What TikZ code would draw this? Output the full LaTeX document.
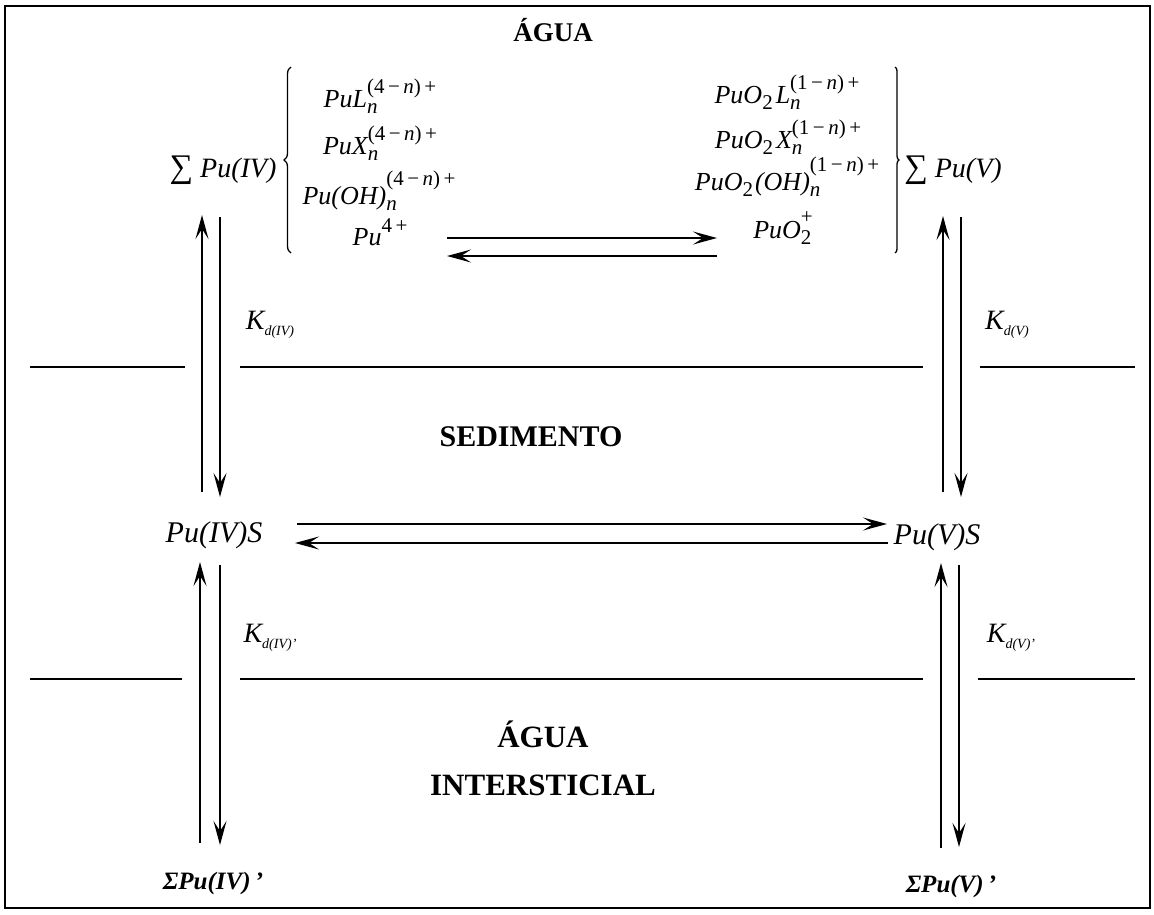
\documentclass[tikz,border=0pt]{standalone}
\usepackage{fontspec}
\setmainfont{Liberation Serif}
\usetikzlibrary{arrows.meta,decorations.pathreplacing}

% raised/lowered indices set in a smaller upright font
\newdimen\sswd
\newcommand\supfont{\fontsize{21}{21}\selectfont\upshape}
% \supsub[raise]{subscript}{superscript}
\newcommand\supsub[3][14pt]{%
  \setbox0=\hbox{\supfont #3}%
  \setbox2=\hbox{\supfont #2}%
  \sswd=\wd0 \ifdim\wd2>\sswd \sswd=\wd2\fi
  \rlap{\raise#1\box0}\rlap{\lower6pt\box2}\kern\sswd}
\newcommand\chsub[1]{\lower6pt\hbox{\supfont #1}}
\newcommand\chsup[2][13pt]{\raise#1\hbox{\supfont #2}}
\newcommand\chg[1]{(#1\,−\,\textit{n})\,+}
\newcommand\Ksub[1]{\lower6pt\hbox{\fontsize{14}{14}\selectfont\itshape #1}}
\newcommand\bigsum{{\upshape\fontsize{33}{33}\selectfont ∑}}

\tikzset{
  title/.style={font=\fontsize{30}{36}\selectfont\bfseries, inner sep=0pt, align=center},
  spec/.style={font=\fontsize{26}{30}\selectfont\itshape, inner sep=0pt, anchor=base},
  total/.style={spec, font=\fontsize{28}{32}\selectfont\itshape},
  sorbed/.style={spec, font=\fontsize{30}{34}\selectfont\itshape},
  pore/.style={spec, font=\fontsize{25}{30}\selectfont\bfseries\itshape},
  klabel/.style={font=\fontsize{28}{32}\selectfont\itshape, inner sep=0pt},
  rxn/.style={line width=1.6pt, -{Stealth[length=24pt,width=13pt,inset=10pt]}},
  layer/.style={line width=1.5pt},
  group/.style={line width=1.3pt, decorate},
}

\begin{document}
\begin{tikzpicture}[x=1pt,y=-1pt]
\useasboundingbox (0,0) rectangle (1154,914);
\draw[line width=2pt] (5,6) rectangle (1150,908);

% compartment titles
\node[title, font=\fontsize{27}{32}\selectfont\bfseries] (water) at (553,30) {ÁGUA};
\node[title] (sed)  at (531,437) {SEDIMENTO};
\node[title, font=\fontsize{31}{36}\selectfont\bfseries] (pore) at (543,758) {ÁGUA\\[12pt]INTERSTICIAL};

% dissolved Pu(IV) species
\node[total] (sIV) at (223,177) {\bigsum\ Pu(IV)};
\node[spec] (L4)  at (380,107) {PuL\supsub{\textit{n}}{\chg{4}}};
\node[spec] (X4)  at (380,154) {PuX\supsub{\textit{n}}{\chg{4}}};
\node[spec] (OH4) at (379,204) {Pu(OH)\supsub[19pt]{\textit{n}}{\chg{4}}};
\node[spec] (Pu4) at (380,245) {Pu\chsup{4\,+}};

% dissolved Pu(V) species
\node[total] (sV)  at (953,177) {\bigsum\ Pu(V)};
\node[spec] (L5)  at (787,103) {PuO\chsub{2}\hskip3pt L\supsub{\textit{n}}{\chg{1}}};
\node[spec] (X5)  at (788,148) {PuO\chsub{2}\hskip3pt X\supsub{\textit{n}}{\chg{1}}};
\node[spec] (OH5) at (787,190) {PuO\chsub{2}\hskip2pt(OH)\supsub[19pt]{\textit{n}}{\chg{1}}};
\node[spec] (Pu5) at (783,238) {PuO\supsub[15pt]{2}{+}};

% group brackets
\draw[group, decoration={brace, amplitude=7pt}] (291,253) -- (291,67);
\draw[group, decoration={brace, amplitude=4pt}] (895,67) -- (895,253);

% sorbed species
\node[sorbed] (sIVs) at (214,542) {Pu(IV)S};
\node[sorbed] (sVs)  at (937,544) {Pu(V)S};

% pore-water totals
\node[pore] (pIV) at (213,889) {ΣPu(IV)\,’};
\node[pore] (pV)  at (951,892) {ΣPu(V)\,’};

% distribution coefficients
\node[klabel] (k1) at (270,325) {K\Ksub{d(IV)}};
\node[klabel] (k2) at (1007,325) {K\Ksub{d(V)}};
\node[klabel] (k3) at (270,638) {K\Ksub{d(IV)’}};
\node[klabel] (k4) at (1011,638) {K\Ksub{d(V)’}};

% layer boundaries
\draw[layer] (30,367) -- (185,367);
\draw[layer] (240,367) -- (923,367);
\draw[layer] (980,367) -- (1135,367);
\draw[layer] (30,679) -- (182,679);
\draw[layer] (240,679) -- (923,679);
\draw[layer] (978,679) -- (1135,679);

% arrow end points
\coordinate (a1) at (447,238); \coordinate (a2) at (717,238);
\coordinate (b1) at (717,256); \coordinate (b2) at (447,256);
\coordinate (c1) at (297,524); \coordinate (c2) at (887,524);
\coordinate (d1) at (888,543); \coordinate (d2) at (295,543);
\coordinate (e1) at (202,492); \coordinate (e2) at (202,215);
\coordinate (f1) at (220,217); \coordinate (f2) at (220,497);
\coordinate (g1) at (943,492); \coordinate (g2) at (943,216);
\coordinate (h1) at (961,217); \coordinate (h2) at (961,497);
\coordinate (i1) at (200,843); \coordinate (i2) at (200,562);
\coordinate (j1) at (220,565); \coordinate (j2) at (220,845);
\coordinate (m1) at (941,848); \coordinate (m2) at (941,563);
\coordinate (n1) at (959,565); \coordinate (n2) at (959,847);

% equilibria
\draw[rxn] (a1) -- (a2);
\draw[rxn] (b1) -- (b2);
\draw[rxn] (c1) -- (c2);
\draw[rxn] (d1) -- (d2);
\draw[rxn] (e1) -- (e2);
\draw[rxn] (f1) -- (f2);
\draw[rxn] (g1) -- (g2);
\draw[rxn] (h1) -- (h2);
\draw[rxn] (i1) -- (i2);
\draw[rxn] (j1) -- (j2);
\draw[rxn] (m1) -- (m2);
\draw[rxn] (n1) -- (n2);
\end{tikzpicture}
\end{document}
